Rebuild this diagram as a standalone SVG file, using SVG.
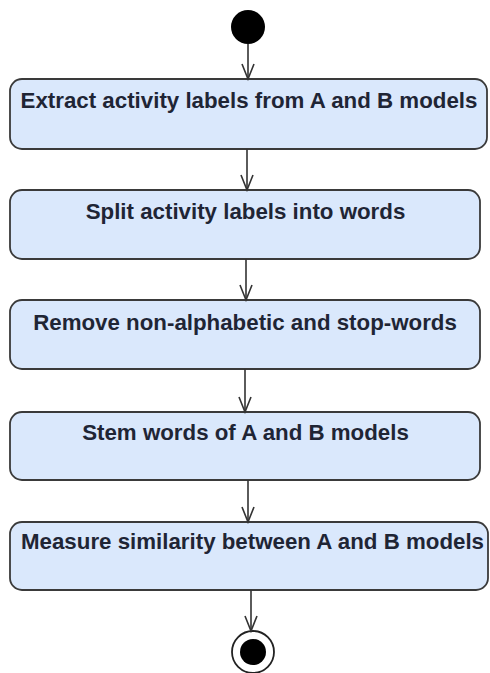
<svg xmlns="http://www.w3.org/2000/svg" width="490" height="673" viewBox="0 0 490 673">
<defs>
<marker id="open" markerWidth="18" markerHeight="14" refX="16" refY="7" orient="auto" markerUnits="userSpaceOnUse" viewBox="0 0 18 14">
<path d="M1,1 L16,7 L1,13" fill="none" stroke="#333" stroke-width="1.6"/>
</marker>
<style>
.box{fill:#dae8fc;stroke:#3a3a3a;stroke-width:1.8}
.lbl{font-family:"Liberation Sans",Arial,sans-serif;font-weight:bold;font-size:22.3px;fill:#1f2535;text-anchor:middle}
.edge{stroke:#333;stroke-width:1.6;fill:none;marker-end:url(#open)}
</style>
</defs>
<rect width="490" height="673" fill="#ffffff"/>
<g id="start"><circle cx="248" cy="27" r="17" fill="#000"/></g>
<g id="n1"><rect class="box" x="10" y="79" width="477" height="70" rx="12"/><text class="lbl" x="249" y="108">Extract activity labels from A and B models</text></g>
<g id="n2"><rect class="box" x="10" y="190" width="470" height="69" rx="12"/><text class="lbl" x="245.5" y="219">Split activity labels into words</text></g>
<g id="n3"><rect class="box" x="10" y="300" width="470" height="69" rx="12"/><text class="lbl" x="245" y="330">Remove non-alphabetic and stop-words</text></g>
<g id="n4"><rect class="box" x="10" y="412" width="470" height="68" rx="12"/><text class="lbl" x="245.5" y="440">Stem words of A and B models</text></g>
<g id="n5"><rect class="box" x="10" y="522" width="478" height="68" rx="12"/><text class="lbl" x="252.5" y="549">Measure similarity between A and B models</text></g>
<g id="end"><circle cx="253" cy="652" r="21" fill="#fff" stroke="#222" stroke-width="1.8"/><circle cx="253" cy="652" r="13" fill="#000"/></g>
<g id="connectors">
<path class="edge" d="M248,44 L248,79"/>
<path class="edge" d="M247,149 L247,190"/>
<path class="edge" d="M246,259 L246,300"/>
<path class="edge" d="M245,369 L245,412"/>
<path class="edge" d="M248,480 L248,522"/>
<path class="edge" d="M251,590 L251,631"/>
</g>
</svg>
